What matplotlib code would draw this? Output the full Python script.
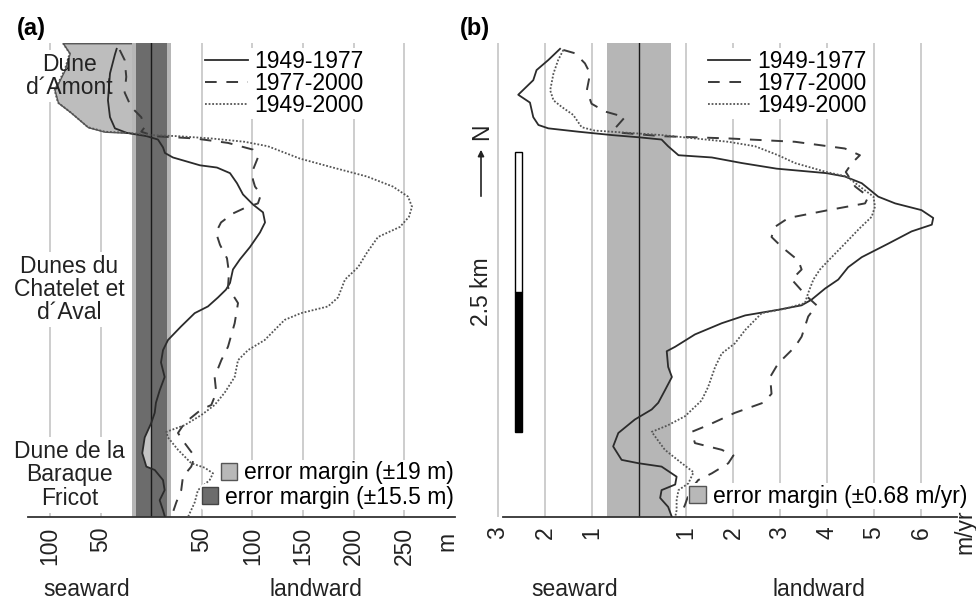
import matplotlib
matplotlib.use('Agg')
import numpy as np
import matplotlib.pyplot as plt
from matplotlib.patches import Patch, Rectangle
from matplotlib.lines import Line2D

plt.rcParams['font.family'] = ['Liberation Sans', 'DejaVu Sans']
FS = 16.5

# ---------------- data -----------------
series_labels = ['1949-1977', '1977-2000', '1949-2000']

# Panel (a): shoreline displacement (m, negative = seaward) vs alongshore distance (km)
a_solid_x = [-34.2, -35.9, -40.8, -42.8, -40.8, -35.9, -24.3, -4.5, 6.6, 11.6, 13.5, 21.4, 48.1, 64.9,
             77.8, 84.7, 90.6, 100.5, 110.4, 112.4, 107.4, 97.5, 87.6, 80.7, 77.8, 73.8, 65.9, 56.0,
             42.9, 29.3, 16.5, 11.6, 9.6, 13.2, 8.3, 4.6, 3.4, 0.0, -6.5, -8.9, -4.9, 3.4, 11.6, 13.2,
             8.3, 11.6, 13.5]
a_solid_y = [4.18, 4.13, 3.96, 3.72, 3.57, 3.47, 3.43, 3.40, 3.37, 3.30, 3.25, 3.21, 3.14, 3.12,
             3.07, 2.98, 2.88, 2.79, 2.72, 2.63, 2.54, 2.41, 2.30, 2.21, 2.09, 2.03, 1.96, 1.88,
             1.82, 1.70, 1.58, 1.49, 1.38, 1.25, 1.13, 1.02, 0.93, 0.84, 0.71, 0.57, 0.45, 0.42,
             0.33, 0.24, 0.15, 0.06, 0.0]

a_dashed_x = [-31.2, -26.3, -24.7, -26.3, -19.8, -9.9, -6.5, -9.9, 3.4, 42.9, 75.8, 100.5, 105.4,
              100.5, 100.5, 102.5, 108.4, 105.4, 92.6, 80.7, 68.9, 63.9, 67.9, 74.8, 76.8, 75.8,
              85.7, 82.4, 75.8, 69.2, 62.6, 64.2, 59.3, 49.4, 33.0, 26.4, 33.0, 42.9, 39.5, 31.3,
              29.6, 24.7, 19.8]
a_dashed_y = [4.17, 4.08, 3.93, 3.79, 3.66, 3.57, 3.48, 3.44, 3.40, 3.38, 3.34, 3.28, 3.21, 3.10,
              3.01, 2.95, 2.88, 2.80, 2.76, 2.71, 2.63, 2.54, 2.43, 2.31, 2.18, 2.05, 1.91, 1.73,
              1.52, 1.40, 1.25, 1.11, 1.00, 0.96, 0.84, 0.75, 0.66, 0.54, 0.45, 0.36, 0.24, 0.13, 0.0]

a_dotted_x = [-87.3, -80.6, -85.6, -95.5, -92.2, -79.3, -62.5, -46.0, -23.0, 0.0, 26.4, 59.0, 92.3,
              115.3, 146.9, 179.5, 213.1, 238.8, 253.7, 257.6, 254.6, 245.7, 224.0, 213.1, 204.3,
              191.4, 184.5, 174.6, 147.9, 131.8, 121.9, 112.1, 95.6, 85.7, 82.4, 72.5, 62.6, 49.4,
              33.0, 14.8, 16.5, 26.4, 39.5, 52.8, 61.0, 57.7, 46.1, 42.9, 36.3]
a_dotted_y = [4.23, 4.14, 3.99, 3.81, 3.70, 3.61, 3.48, 3.44, 3.43, 3.41, 3.40, 3.38, 3.35, 3.31,
              3.20, 3.12, 3.04, 2.95, 2.86, 2.77, 2.68, 2.59, 2.50, 2.36, 2.23, 2.12, 1.96, 1.88,
              1.82, 1.76, 1.67, 1.58, 1.49, 1.40, 1.25, 1.11, 1.00, 0.91, 0.82, 0.76, 0.71, 0.60,
              0.48, 0.44, 0.39, 0.33, 0.24, 0.13, 0.0]

a_err_outer = 19.0
a_err_inner = 15.5
a_ticks = [-100, -50, 50, 100, 150, 200, 250]
a_tick_labels = ['100', '50', '50', '100', '150', '200', '250']
a_unit = 'm'
a_err_labels = ['error margin (±19 m)', 'error margin (±15.5 m)']

region_names = ['Dune\nd´Amont', 'Dunes du\nChatelet et\nd´Aval', 'Dune de la\nBaraque\nFricot']
region_y = [3.94, 2.03, 0.375]

# Panel (b): rate of shoreline change (m/yr)
b_solid_x = [-1.68, -1.93, -2.18, -2.25, -2.57, -2.32, -2.25, -2.14, -1.93, -1.29, -0.58, 0.0, 0.48,
             0.62, 0.84, 1.55, 2.19, 2.93, 3.99, 4.38, 4.74, 5.09, 5.45, 6.01, 6.26, 6.23, 5.80,
             5.30, 4.74, 4.45, 4.24, 3.96, 3.67, 3.46, 2.96, 2.26, 1.76, 1.19, 0.77, 0.59, 0.62,
             0.70, 0.55, 0.41, 0.27, -0.09, -0.44, -0.55, -0.37, -0.01, 0.48, 0.80, 0.77, 0.48,
             0.45, 0.62, 0.70]
b_solid_y = [4.18, 4.08, 3.99, 3.90, 3.77, 3.70, 3.57, 3.50, 3.47, 3.44, 3.41, 3.39, 3.37, 3.31,
             3.23, 3.21, 3.16, 3.11, 3.07, 3.04, 2.98, 2.86, 2.80, 2.74, 2.67, 2.61, 2.55, 2.44,
             2.32, 2.23, 2.12, 2.04, 1.94, 1.89, 1.85, 1.80, 1.73, 1.63, 1.52, 1.48, 1.34, 1.25,
             1.13, 1.02, 0.96, 0.87, 0.75, 0.63, 0.51, 0.48, 0.45, 0.36, 0.29, 0.24, 0.17, 0.09, 0.0]

b_dashed_x = [-1.61, -1.36, -1.15, -1.04, -1.11, -1.01, -0.72, -0.30, -0.51, -0.37, 0.48, 1.90,
              3.32, 4.38, 4.70, 4.53, 4.40, 4.60, 4.88, 4.81, 4.03, 3.18, 2.89, 2.82, 3.04, 3.39,
              3.46, 3.25, 3.57, 3.78, 3.60, 3.46, 3.32, 2.96, 2.79, 2.82, 2.64, 2.04, 1.47, 1.12,
              1.19, 1.76, 2.01, 1.90, 1.55, 1.26, 1.09, 0.98, 0.87]
b_dashed_y = [4.17, 4.14, 4.05, 3.96, 3.81, 3.69, 3.62, 3.57, 3.47, 3.43, 3.40, 3.38, 3.35, 3.29,
              3.23, 3.16, 3.08, 2.95, 2.86, 2.80, 2.74, 2.67, 2.59, 2.50, 2.41, 2.29, 2.21, 2.12,
              1.97, 1.89, 1.79, 1.61, 1.52, 1.37, 1.25, 1.10, 1.02, 0.93, 0.82, 0.76, 0.66, 0.60,
              0.55, 0.48, 0.39, 0.33, 0.24, 0.11, 0.0]

b_dotted_x = [-1.61, -1.72, -1.82, -1.89, -1.82, -1.64, -1.40, -1.22, -0.94, -0.23, 0.48, 1.19,
              1.90, 2.47, 2.96, 3.32, 3.99, 4.42, 4.70, 4.99, 5.02, 4.95, 4.70, 4.31, 4.03, 3.85,
              3.71, 3.60, 3.53, 3.11, 2.61, 2.26, 2.04, 1.76, 1.62, 1.47, 1.33, 0.98, 0.62, 0.27,
              0.55, 0.91, 1.16, 1.05, 0.84, 0.80, 0.80, 0.77]
b_dotted_y = [4.17, 4.08, 3.96, 3.81, 3.72, 3.66, 3.59, 3.48, 3.45, 3.43, 3.41, 3.38, 3.35, 3.31,
              3.23, 3.16, 3.08, 3.04, 2.95, 2.86, 2.77, 2.68, 2.58, 2.41, 2.29, 2.21, 2.12, 2.00,
              1.91, 1.86, 1.82, 1.67, 1.55, 1.46, 1.34, 1.16, 1.04, 0.90, 0.82, 0.76, 0.60, 0.48,
              0.40, 0.30, 0.24, 0.15, 0.06, 0.0]

b_err = 0.68
b_ticks = [-3, -2, -1, 1, 2, 3, 4, 5, 6]
b_tick_labels = ['3', '2', '1', '1', '2', '3', '4', '5', '6']
b_unit = 'm/yr'
b_err_label = 'error margin (±0.68 m/yr)'
scale_km = 2.5

# ---------------- styling -----------------
W, H = 976, 600
LINE_C = '#2b2b2b'
GRID_C = '#c9c9c9'
LIGHT = '#b6b6b6'
DARK = '#6c6c6c'
styles = [dict(ls='-', lw=1.3, color=LINE_C),
          dict(ls=(0, (6, 5)), lw=1.4, color='#3a3a3a'),
          dict(ls=(0, (1, 1)), lw=1.3, color='#555555')]

def fx(px):
    return px / W

def fy(py):
    return 1 - py / H

fig = plt.figure(figsize=(W / 100, H / 100), dpi=100)
axa = fig.add_axes([fx(28), fy(517), (455 - 28) / W, (517 - 43) / H])
axb = fig.add_axes([fx(495), fy(517), (957 - 495) / W, (517 - 43) / H])

for ax in (axa, axb):
    for s in ('top', 'left', 'right'):
        ax.spines[s].set_visible(False)
    ax.spines['bottom'].set_color('#333333')
    ax.spines['bottom'].set_linewidth(1.3)
    ax.set_yticks([])
    ax.set_ylim(0, 4.232)
    ax.tick_params(axis='x', length=0, pad=7, labelsize=FS, labelrotation=90, colors='#222222')

# ---- panel (a)
axa.set_xlim(-121.8, 300.1)
for t in a_ticks:
    axa.axvline(t, color=GRID_C, lw=1.3, zorder=0.5)
axa.set_xticks(a_ticks)
axa.set_xticklabels(a_tick_labels)

ya_dot = np.array(a_dotted_y)
xa_dot = np.array(a_dotted_x)
axa.fill_betweenx(ya_dot, xa_dot, 0, where=ya_dot >= 3.41, facecolor='#bdbdbd',
                  edgecolor='#555555', lw=1.0, zorder=1)
axa.axvspan(-a_err_outer, a_err_outer, color=LIGHT, lw=0, zorder=1.5)
axa.axvspan(-a_err_inner, a_err_inner, color=DARK, lw=0, zorder=1.6)
ya_sol = np.array(a_solid_y)
xa_sol = np.array(a_solid_x)
axa.fill_betweenx(ya_sol, xa_sol, 0, where=(xa_sol < 0) & (ya_sol < 1.5), interpolate=True,
                  facecolor='#c4c4c4', edgecolor='none', zorder=1.7)
axa.axvline(0, color='#1a1a1a', lw=1.0, zorder=1.8)

axa.plot(a_solid_x, a_solid_y, zorder=3, **styles[0])
axa.plot(a_dashed_x, a_dashed_y, zorder=3, **styles[1])
axa.plot(a_dotted_x, a_dotted_y, zorder=3, **styles[2])

for name, yv in zip(region_names, region_y):
    # white backing box below the fill, text above everything
    axa.text(-80.8, yv, name, ha='center', va='center', ma='center', fontsize=FS, linespacing=1.02,
             color=(1, 1, 1, 0), zorder=0.8,
             bbox=dict(boxstyle='square,pad=0.12', fc='white', ec='none'))
    axa.text(-80.8, yv, name, ha='center', va='center', ma='center', fontsize=FS, linespacing=1.02,
             color='#222222', zorder=6)

handles = [Line2D([], [], **st) for st in styles]
lega = axa.legend(handles, series_labels, loc='upper left', bbox_to_anchor=(0.41, 0.99),
                  fontsize=FS, frameon=True, framealpha=1, edgecolor='none', facecolor='white',
                  handlelength=1.85, handletextpad=0.3, labelspacing=-0.05, borderpad=0.1,
                  borderaxespad=0)
lega.set_zorder(5)
axa.add_artist(lega)

le1 = axa.legend([Patch(facecolor='#b8b8b8', edgecolor='#555555', lw=1)], [a_err_labels[0]],
                 loc='center right', bbox_to_anchor=(1.0, 0.093), fontsize=FS, frameon=True,
                 framealpha=1, edgecolor='none', facecolor='white', handlelength=0.72,
                 handleheight=0.72, handletextpad=0.3, borderpad=0.05, borderaxespad=0)
le1.set_zorder(5)
axa.add_artist(le1)
le2 = axa.legend([Patch(facecolor=DARK, edgecolor='#444444', lw=1)], [a_err_labels[1]],
                 loc='center right', bbox_to_anchor=(1.0, 0.042), fontsize=FS, frameon=True,
                 framealpha=1, edgecolor='none', facecolor='white', handlelength=0.72,
                 handleheight=0.72, handletextpad=0.3, borderpad=0.05, borderaxespad=0)
le2.set_zorder(5)

# ---- panel (b)
axb.set_xlim(-3.064, 6.766)
axb.spines['bottom'].set_bounds(-2.9, 6.766)
for t in b_ticks:
    axb.axvline(t, color=GRID_C, lw=1.3, zorder=0.5)
axb.set_xticks(b_ticks)
axb.set_xticklabels(b_tick_labels)
axb.axvspan(-b_err, b_err, color=LIGHT, lw=0, zorder=1.5)
axb.axvline(0, color='#1a1a1a', lw=1.0, zorder=1.8)

axb.plot(b_solid_x, b_solid_y, zorder=3, **styles[0])
axb.plot(b_dashed_x, b_dashed_y, zorder=3, **styles[1])
axb.plot(b_dotted_x, b_dotted_y, zorder=3, **styles[2])

handles = [Line2D([], [], **st) for st in styles]
legb = axb.legend(handles, series_labels, loc='upper left', bbox_to_anchor=(0.455, 0.99),
                  fontsize=FS, frameon=True, framealpha=1, edgecolor='none', facecolor='white',
                  handlelength=1.85, handletextpad=0.3, labelspacing=-0.05, borderpad=0.1,
                  borderaxespad=0)
legb.set_zorder(5)
axb.add_artist(legb)
le3 = axb.legend([Patch(facecolor='#b8b8b8', edgecolor='#555555', lw=1)], [b_err_label],
                 loc='center left', bbox_to_anchor=(0.418, 0.044), fontsize=FS, frameon=True,
                 framealpha=1, edgecolor='none', facecolor='white', handlelength=0.72,
                 handleheight=0.72, handletextpad=0.3, borderpad=0.05, borderaxespad=0)
le3.set_zorder(5)
le3.set_clip_on(False)

# scale bar (2.5 km, two halves)
y0 = 0.76
axb.add_patch(Rectangle((-2.64, y0), 0.14, scale_km / 2, facecolor='black',
                        edgecolor='black', lw=1, zorder=4))
axb.add_patch(Rectangle((-2.64, y0 + scale_km / 2), 0.14, scale_km / 2, facecolor='white',
                        edgecolor='black', lw=1, zorder=4))

# ---------------- figure texts -----------------
fig.text(fx(17), fy(28), '(a)', fontsize=17, fontweight='bold', ha='left', va='center')
fig.text(fx(460), fy(28), '(b)', fontsize=17, fontweight='bold', ha='left', va='center')
fig.text(fx(87), fy(589), 'seaward', fontsize=FS, ha='center', va='center', color='#222222')
fig.text(fx(316), fy(589), 'landward', fontsize=FS, ha='center', va='center', color='#222222')
fig.text(fx(575), fy(589), 'seaward', fontsize=FS, ha='center', va='center', color='#222222')
fig.text(fx(819), fy(589), 'landward', fontsize=FS, ha='center', va='center', color='#222222')
fig.text(fx(447), fy(541), a_unit, fontsize=FS, rotation=90, ha='center', va='center', color='#222222')
fig.text(fx(965), fy(532), b_unit, fontsize=FS, rotation=90, ha='center', va='center', color='#222222')
fig.text(fx(481), fy(292), f'{scale_km} km', fontsize=FS, rotation=90, ha='center', va='center',
         color='#222222')
fig.text(fx(482), fy(132), 'N', fontsize=FS, rotation=90, ha='center', va='center', color='#222222')
fig.patches.append(matplotlib.patches.FancyArrowPatch(
    (fx(481), fy(199)), (fx(481), fy(147)), transform=fig.transFigure, arrowstyle='-|>',
    mutation_scale=9, lw=1.2, color='#222222'))

fig.savefig('out.png', dpi=100, facecolor='white')
